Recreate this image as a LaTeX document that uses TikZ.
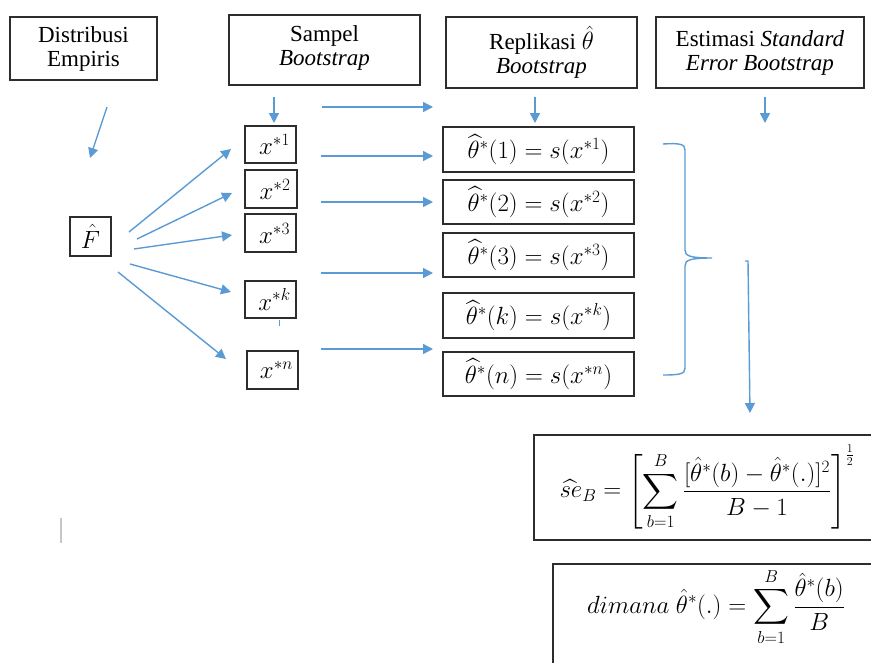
\documentclass[tikz,border=0pt]{standalone}
\usepackage{amsmath}
\usepackage{fontspec}
\setmainfont{Liberation Serif}
\usetikzlibrary{arrows.meta,calc}
\definecolor{arrblue}{RGB}{91,155,213}
\definecolor{boxc}{RGB}{45,45,45}
\tikzset{
  boxn/.style={draw=boxc,line width=1.4pt,inner sep=0pt,align=center,
    font=\fontsize{23}{24}\selectfont},
  mbox/.style={boxn,font=\fontsize{24}{26}\selectfont},
  arr/.style={draw=arrblue,line width=1.4pt,-{Triangle[length=10pt,width=10pt]}},
  bline/.style={draw=arrblue,line width=1.4pt},
  mathf/.style={font=\fontsize{26}{28}\selectfont}
}
\begin{document}
\begin{tikzpicture}[x=1pt,y=-1pt]
\clip (0,0) rectangle (871,662);
\fill[white] (0,0) rectangle (871,662);
% headers
\node[boxn,minimum width=147pt,minimum height=63pt] (dist) at (83.5,48.5) {Distribusi\\Empiris};
\node[boxn,minimum width=191pt,minimum height=70pt] (samp) at (324.5,50) {Sampel\\\textit{Bootstrap}\\[-16pt]\mbox{}};
\node[boxn,minimum width=191pt,minimum height=71pt] (repl) at (541.5,52.5) {Replikasi $\hat{\theta}$\\\textit{Bootstrap}};
\node[boxn,minimum width=208pt,minimum height=71pt] (est) at (760,52.5) {Estimasi \textit{Standard}\\\textit{Error Bootstrap}};
% F hat
\node[mbox,minimum width=41pt,minimum height=39pt] (fh) at (90.5,236.5) {$\hat{F}$};
% samples
\node[mbox,minimum width=51pt,minimum height=37pt] (x1) at (270.5,144.5) {\hspace{8pt}$x^{*1}$};
\node[mbox,minimum width=52pt,minimum height=38pt] (x2) at (271,189) {\hspace{8pt}$x^{*2}$};
\node[mbox,minimum width=51pt,minimum height=38pt] (x3) at (270.5,233) {\hspace{8pt}$x^{*3}$};
\node[mbox,minimum width=51pt,minimum height=37pt] (xk) at (270.5,299.5) {\hspace{8pt}$x^{*k}$};
\node[mbox,minimum width=51pt,minimum height=38pt] (xn) at (272.5,370) {\hspace{8pt}$x^{*n}$};
% replications
\node[mbox,minimum width=191pt,minimum height=45pt] (t1) at (538.5,149.5) {$\widehat{\theta}^{*}(1)=s(x^{*1})$};
\node[mbox,minimum width=191pt,minimum height=44pt] (t2) at (538.5,202) {$\widehat{\theta}^{*}(2)=s(x^{*2})$};
\node[mbox,minimum width=191pt,minimum height=44pt] (t3) at (538.5,255) {$\widehat{\theta}^{*}(3)=s(x^{*3})$};
\node[mbox,minimum width=191pt,minimum height=45pt] (tk) at (538.5,315.5) {$\widehat{\theta}^{*}(k)=s(x^{*k})$};
\node[mbox,minimum width=191pt,minimum height=44pt] (tn) at (538.5,374) {$\widehat{\theta}^{*}(n)=s(x^{*n})$};
% formulas
\node[boxn,font=\fontsize{24}{26}\selectfont,minimum width=346pt,minimum height=105pt] (f1) at (707,487.5)
 {$\displaystyle \widehat{se}_B=\left[\sum_{b=1}^{B}\frac{[\hat{\theta}^{*}(b)-\hat{\theta}^{*}(.)]^{2}}{B-1}\right]^{\frac{1}{2}}$};
\draw[draw=boxc,line width=1.4pt] (553,564) rectangle (900,700);
\node[mathf,inner sep=0pt] (f2) at (716,607)
 {$\displaystyle dimana\ \hat{\theta}^{*}(.)=\sum_{b=1}^{B}\frac{\hat{\theta}^{*}(b)}{B}$};
% connector end points
\coordinate (a0s) at (107,107); \coordinate (a0e) at (90,158);
\coordinate (a1s) at (274,97);  \coordinate (a1e) at (274,123);
\coordinate (a2s) at (322,107); \coordinate (a2e) at (433,107);
\coordinate (a3s) at (535,97);  \coordinate (a3e) at (535,123);
\coordinate (a4s) at (765,97);  \coordinate (a4e) at (765,123);
\coordinate (f1s) at (129,232); \coordinate (f1e) at (231,149);
\coordinate (f2s) at (137,239); \coordinate (f2e) at (232,193);
\coordinate (f3s) at (134,249); \coordinate (f3e) at (232,235);
\coordinate (f4s) at (130,264); \coordinate (f4e) at (231,292);
\coordinate (f5s) at (118,272); \coordinate (f5e) at (226,359);
\coordinate (h1s) at (321,156); \coordinate (h1e) at (433,156);
\coordinate (h2s) at (321,202); \coordinate (h2e) at (433,202);
\coordinate (h3s) at (321,273); \coordinate (h3e) at (433,273);
\coordinate (h4s) at (321,349); \coordinate (h4e) at (433,349);
\coordinate (ds) at (745,261); \coordinate (dm) at (748,261); \coordinate (de) at (750,413);
% arrows
\draw[arr] (a0s) -- (a0e);
\draw[arr] (a1s) -- (a1e);
\draw[arr] (a2s) -- (a2e);
\draw[arr] (a3s) -- (a3e);
\draw[arr] (a4s) -- (a4e);
\draw[arr] (f1s) -- (f1e);
\draw[arr] (f2s) -- (f2e);
\draw[arr] (f3s) -- (f3e);
\draw[arr] (f4s) -- (f4e);
\draw[arr] (f5s) -- (f5e);
\draw[arr] (h1s) -- (h1e);
\draw[arr] (h2s) -- (h2e);
\draw[arr] (h3s) -- (h3e);
\draw[arr] (h4s) -- (h4e);
\draw[arr] (ds) -- (dm) -- (de);
% brace
\draw[bline] (663,144) .. controls (680,143) and (685,144) .. (685,150) -- (685,250)
  .. controls (685,256) and (690,258) .. (712,258)
  .. controls (690,258) and (685,260) .. (685,266) -- (685,368)
  .. controls (685,374) and (680,375) .. (663,375);
% small tick under x*k
\draw[bline,line width=1.2pt] (xk.south) ++(9,1) -- ++(0,6);
% cursor mark
\draw[gray!45,line width=1.3pt] (61,518) -- (61,543);
\end{tikzpicture}
\end{document}
